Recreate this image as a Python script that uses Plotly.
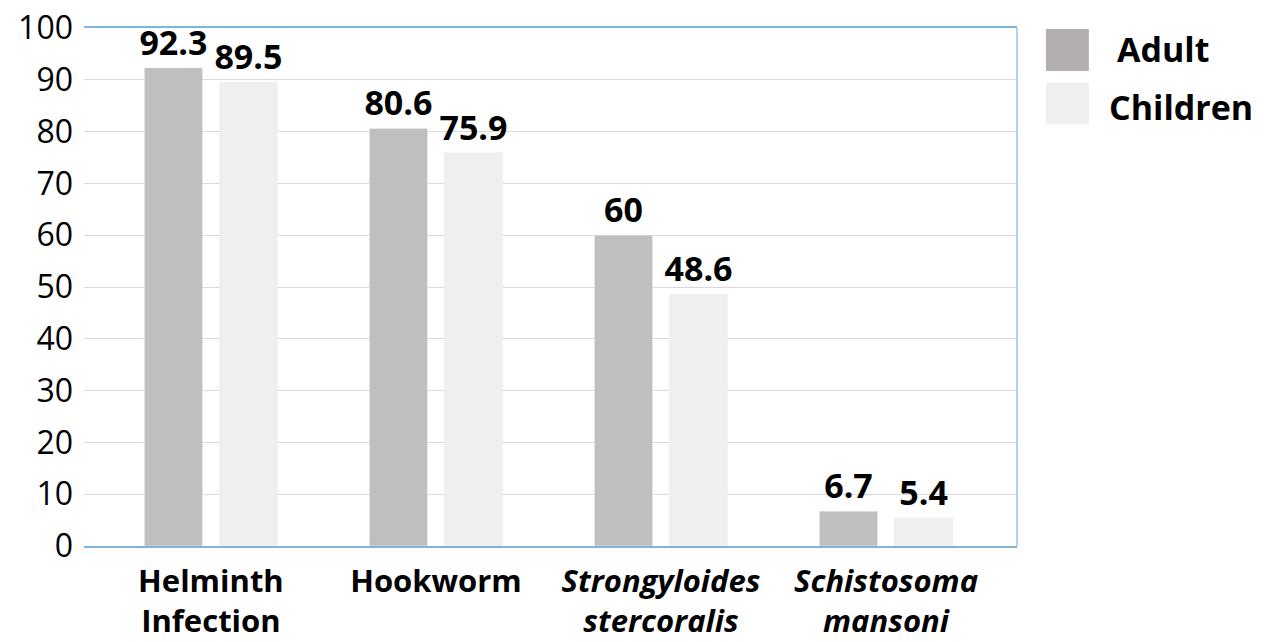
import plotly.graph_objects as go

categories = ["Helminth<br>Infection", "Hookworm", "<i>Strongyloides<br>stercoralis</i>", "<i>Schistosoma<br>mansoni</i>"]
series_names = ["Adult", "Children"]
adult = [92.3, 80.6, 60, 6.7]
children = [89.5, 75.9, 48.6, 5.4]
y_ticks = [0, 10, 20, 30, 40, 50, 60, 70, 80, 90, 100]

colors = ["#bfbfbf", "#efefef"]
legend_colors = ["#b3afaf", "#efefef"]
FONT = "Open Sans"
FRAME = "#7fb3e0"

fig = go.Figure()
for name, vals, col in zip(series_names, [adult, children], colors):
    fig.add_trace(go.Bar(
        x=categories, y=vals, name=name, marker_color=col,
        text=[f"{v:g}" for v in vals], textposition="outside",
        constraintext="none",
        textfont=dict(family=FONT, size=34, color="#000000", weight="bold"),
        cliponaxis=False, showlegend=False,
    ))

# custom legend (large swatches)
sw_y = [(0.998, 0.917), (0.894, 0.814)]
txt_y = [0.960, 0.848]
txt_x = [1.105, 1.096]
shapes = [dict(type="line", xref="paper", yref="paper", x0=1, x1=1, y0=0, y1=1,
               line=dict(color="#9dc3e6", width=1.5))]
annotations = []
for i, name in enumerate(series_names):
    shapes.append(dict(type="rect", xref="paper", yref="paper",
                       x0=1.031, x1=1.077, y0=sw_y[i][1], y1=sw_y[i][0],
                       fillcolor=legend_colors[i], line=dict(width=0)))
    annotations.append(dict(xref="paper", yref="paper", x=txt_x[i], y=txt_y[i],
                            text=f"<b>{name}</b>", showarrow=False,
                            xanchor="left", yanchor="middle",
                            font=dict(family=FONT, size=34, color="#000000")))

fig.update_layout(
    width=1265, height=634,
    margin=dict(l=76, r=256, t=20, b=96, autoexpand=False),
    paper_bgcolor="white", plot_bgcolor="white",
    barmode="group", bargap=0.333, bargroupgap=0.227,
    shapes=shapes, annotations=annotations,
    font=dict(family=FONT, color="#000000"),
)
fig.update_xaxes(
    type="category", range=[-0.564, 3.582], automargin=False,
    showline=True, linecolor=FRAME, linewidth=1.5, mirror=True,
    ticks="", tickfont=dict(family=FONT, size=31, color="#000000", weight="bold"),
    ticklabelstandoff=7, showgrid=False, ticklabeloverflow="allow",
)
fig.update_yaxes(
    range=[0, 100], tickvals=y_ticks, automargin=False,
    showgrid=True, gridcolor="#d9d9d9", gridwidth=1,
    showline=False,
    ticks="", tickfont=dict(family=FONT, size=32, color="#000000"),
    ticklabelstandoff=10, zeroline=False, ticklabeloverflow="allow",
)

fig.write_html("out.html")
